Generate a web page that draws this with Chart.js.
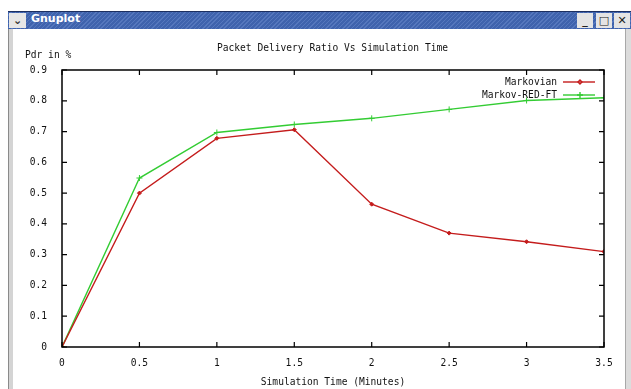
<!DOCTYPE html>
<html>
<head>
<meta charset="utf-8">
<script src="https://cdn.jsdelivr.net/npm/chart.js@4.4.0/dist/chart.umd.min.js"></script>
<style>
    html, body { margin: 0; padding: 0; background: #ffffff; }
    #win { position: relative; width: 631px; height: 389px; overflow: hidden; background: #ffffff; }
    #titlebar {
        position: absolute; left: 8px; top: 11px; width: 623px; height: 17px;
        background: repeating-linear-gradient(135deg, #3f63ad 0px, #3f63ad 2px, #5577bd 2px, #5577bd 3px);
        border-top: 1px solid #1c2f60;
    }
    #menubtn {
        position: absolute; left: 1px; top: 1px; width: 17px; height: 15px;
        background: #e6e6e6; color: #333; font: bold 11px "DejaVu Sans", sans-serif;
        text-align: center; line-height: 15px;
    }
    #wintitle {
        position: absolute; left: 23px; top: 0; line-height: 17px;
        color: #ffffff; font: bold 11px "DejaVu Sans", sans-serif;
    }
    .wbtn {
        position: absolute; top: 1px; width: 16px; height: 15px; background: #e4e4e4;
        color: #222; font: bold 11px "DejaVu Sans", sans-serif; text-align: center; line-height: 15px;
    }
    #leftborder { position: absolute; left: 8px; top: 29px; width: 4px; height: 360px; background: #d4d4d4; border-left: 1px solid #8a8a8a; }
    #rightborder { position: absolute; left: 625px; top: 29px; width: 6px; height: 360px; background: #dcdcdc; border-left: 1px solid #a8a8a8; }
    #ylabel { position: absolute; left: 25px; top: 49px; font: 9.6px "DejaVu Sans Mono", monospace; color: #111; }
    #charttitle { position: absolute; left: 0; width: 665px; top: 42px; text-align: center; font: 9.6px "DejaVu Sans Mono", monospace; color: #111; }
    #chartbox { position: absolute; left: 0; top: 0; width: 631px; height: 389px; }
</style>
</head>
<body>
<div id="win">
    <div id="chartbox"><canvas id="chart"></canvas></div>
    <div id="titlebar">
        <div id="menubtn">&#8964;</div>
        <div id="wintitle">Gnuplot</div>
        <div class="wbtn" style="left:569px">_</div>
        <div class="wbtn" style="left:588px">&#9633;</div>
        <div class="wbtn" style="left:606px">&#10005;</div>
    </div>
    <div id="leftborder"></div>
    <div id="rightborder"></div>
    <div id="charttitle">Packet Delivery Ratio Vs Simulation Time</div>
    <div id="ylabel">Pdr in %</div>
</div>
<script>
// Simulation time in minutes
const times = [0, 0.5, 1, 1.5, 2, 2.5, 3, 3.5];
// Packet delivery ratio for each protocol
const markovian = [0, 0.50, 0.678, 0.706, 0.464, 0.370, 0.342, 0.310];
const markovRedFt = [0, 0.549, 0.697, 0.723, 0.743, 0.772, 0.801, 0.810];

const seriesNames = ['Markovian', 'Markov-RED-FT'];
const seriesColors = ['#c41c1c', '#33cc33'];
const xTicks = [0, 0.5, 1, 1.5, 2, 2.5, 3, 3.5];
const yTicks = [0, 0.1, 0.2, 0.3, 0.4, 0.5, 0.6, 0.7, 0.8, 0.9];

const monoFont = { family: '"DejaVu Sans Mono", monospace', size: 9.6 };

function toPoints(values) {
    return times.map((t, i) => ({ x: t, y: values[i] }));
}

// Gnuplot style frame: border plus inward ticks on all four sides
const framePlugin = {
    id: 'gnuFrame',
    afterDatasetsDraw(chart) {
        const { ctx, chartArea: a, scales } = chart;
        ctx.save();
        ctx.strokeStyle = '#000';
        ctx.lineWidth = 1.5;
        ctx.strokeRect(a.left, a.top, a.right - a.left, a.bottom - a.top);
        ctx.lineWidth = 1.2;
        ctx.beginPath();
        xTicks.forEach(v => {
            const px = scales.x.getPixelForValue(v);
            ctx.moveTo(px, a.bottom); ctx.lineTo(px, a.bottom - 5);
            ctx.moveTo(px, a.top); ctx.lineTo(px, a.top + 5);
        });
        yTicks.forEach(v => {
            const py = scales.y.getPixelForValue(v);
            ctx.moveTo(a.left, py); ctx.lineTo(a.left + 5, py);
            ctx.moveTo(a.right, py); ctx.lineTo(a.right - 5, py);
        });
        ctx.stroke();

        // key in the top right corner, text then line sample
        ctx.font = '9.6px "DejaVu Sans Mono", monospace';
        ctx.textAlign = 'right';
        ctx.textBaseline = 'middle';
        chart.data.datasets.forEach((ds, i) => {
            const y = a.top + 12 + i * 13;
            ctx.fillStyle = '#111';
            ctx.fillText(ds.label, 557, y);
            ctx.strokeStyle = ds.borderColor;
            ctx.lineWidth = 1.4;
            ctx.beginPath();
            ctx.moveTo(563, y); ctx.lineTo(595, y);
            ctx.stroke();
            ctx.beginPath();
            if (i === 0) {
                ctx.moveTo(580, y - 2); ctx.lineTo(582, y); ctx.lineTo(580, y + 2); ctx.lineTo(578, y); ctx.closePath();
            } else {
                ctx.moveTo(580, y - 3); ctx.lineTo(580, y + 3);
                ctx.moveTo(577, y); ctx.lineTo(583, y);
            }
            ctx.stroke();
        });
        ctx.restore();
    }
};

const ctx = document.getElementById('chart').getContext('2d');
new Chart(ctx, {
    type: 'line',
    data: {
        datasets: [
            {
                label: seriesNames[0],
                data: toPoints(markovian),
                borderColor: seriesColors[0],
                backgroundColor: seriesColors[0],
                borderWidth: 1.4,
                pointStyle: 'rectRot',
                pointRadius: 2,
                pointBorderWidth: 1,
                tension: 0
            },
            {
                label: seriesNames[1],
                data: toPoints(markovRedFt),
                borderColor: seriesColors[1],
                backgroundColor: seriesColors[1],
                borderWidth: 1.4,
                pointStyle: 'cross',
                pointRadius: 3,
                pointBorderWidth: 1,
                tension: 0
            }
        ]
    },
    plugins: [framePlugin],
    options: {
        responsive: true,
        maintainAspectRatio: false,
        animation: false,
        layout: { padding: { top: 70, right: 27, bottom: 0, left: 0 } },
        plugins: {
            legend: { display: false },
            title: { display: false },
            tooltip: { enabled: false }
        },
        scales: {
            x: {
                type: 'linear',
                min: 0,
                max: 3.5,
                afterBuildTicks: scale => { scale.ticks = xTicks.map(v => ({ value: v })); },
                afterFit: scale => { scale.height = 42; },
                grid: { display: false },
                border: { display: false },
                ticks: {
                    font: monoFont,
                    color: '#111',
                    padding: 3,
                    maxRotation: 0,
                    callback: v => String(v)
                },
                title: {
                    display: true,
                    text: 'Simulation Time (Minutes)',
                    font: monoFont,
                    color: '#111',
                    padding: { top: 0, bottom: 1 }
                }
            },
            y: {
                type: 'linear',
                min: 0,
                max: 0.9,
                afterBuildTicks: scale => { scale.ticks = yTicks.map(v => ({ value: v })); },
                afterFit: scale => { scale.width = 62; },
                grid: { display: false },
                border: { display: false },
                ticks: {
                    font: monoFont,
                    color: '#111',
                    padding: 7,
                    callback: v => (v === 0 ? '0' : v.toFixed(1))
                }
            }
        }
    }
});
</script>
</body>
</html>
